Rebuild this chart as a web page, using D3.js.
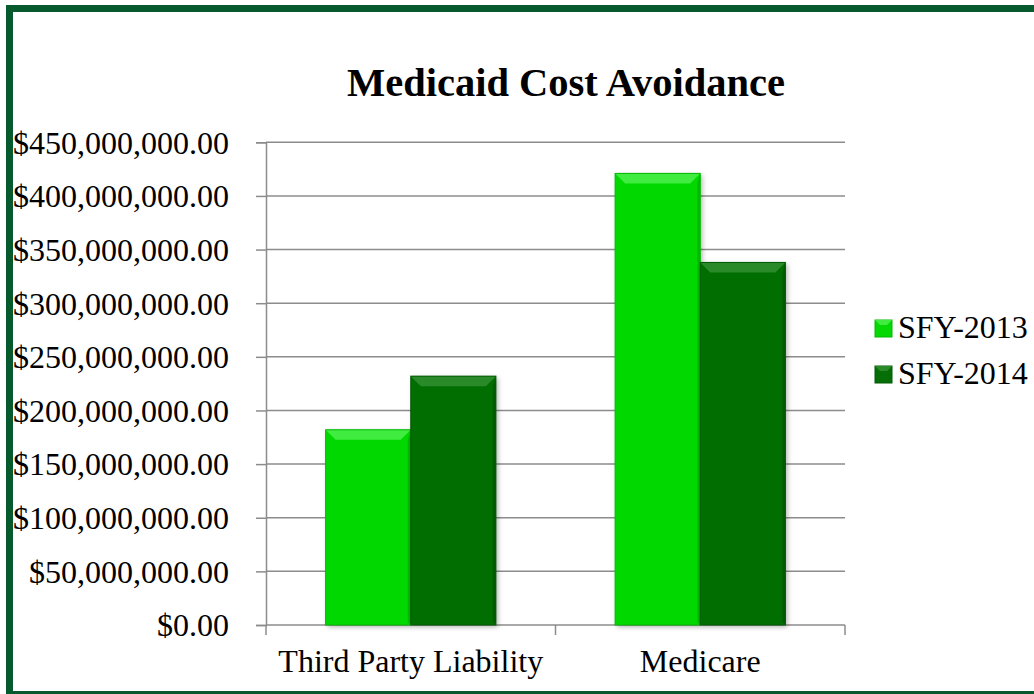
<!DOCTYPE html>
<html>
<head>
<meta charset="utf-8">
<script src="https://cdnjs.cloudflare.com/ajax/libs/d3/7.8.5/d3.min.js"></script>
<style>
  body { margin: 0; background: #fff; overflow: hidden; }
  svg { display: block; overflow: hidden; font-family: "Liberation Serif", "Times New Roman", serif; }
</style>
</head>
<body>
<div class="canvas"></div>
<script>
// data
const categories = ['Third Party Liability', 'Medicare'];
const seriesNames = ['SFY-2013', 'SFY-2014'];
const sfy2013 = [182000000, 421000000];
const sfy2014 = [232000000, 338000000];
const yTicks = [0, 50e6, 100e6, 150e6, 200e6, 250e6, 300e6, 350e6, 400e6, 450e6];

const colors = ['#06d806', '#066e06'];
const topColors = ['#3fec3f', '#2a8a2a'];
const sideColors = ['#04b804', '#045a04'];

// 1. dimensions
const width = 1034, height = 694;
const plot = {left: 266, right: 845, top: 142.3, bottom: 625};

const svg = d3.select('.canvas')
    .append('svg')
    .attr('width', width)
    .attr('height', height);

// drop shadow for bars
const defs = svg.append('defs');
const shadow = defs.append('filter').attr('id', 'shadow')
    .attr('x', '-20%').attr('y', '-20%').attr('width', '150%').attr('height', '150%');
shadow.append('feDropShadow')
    .attr('dx', 2).attr('dy', 2).attr('stdDeviation', 2.5)
    .attr('flood-color', '#000').attr('flood-opacity', 0.3);

// green frame: top, left and bottom only (right side is off the page)
const frame = svg.append('g').attr('fill', '#065a2d');
frame.append('rect').attr('x', 6).attr('y', 5).attr('width', width - 6).attr('height', 7);
frame.append('rect').attr('x', 6).attr('y', 5).attr('width', 7).attr('height', height - 5);
frame.append('rect').attr('x', 6).attr('y', 691).attr('width', width - 6).attr('height', 3);

// title
svg.append('text')
    .attr('x', 566).attr('y', 96)
    .attr('text-anchor', 'middle')
    .attr('font-size', 40.5)
    .attr('font-weight', 'bold')
    .text('Medicaid Cost Avoidance');

// 2. scales
const xScale = d3.scaleBand().domain(categories).range([plot.left, plot.right]).paddingInner(0).paddingOuter(0);
const xInner = d3.scaleBand().domain(seriesNames).range([0, xScale.bandwidth()]).paddingOuter(0.7).paddingInner(0);
const yScale = d3.scaleLinear().domain([0, 450e6]).range([plot.bottom, plot.top]);

// gridlines
svg.append('g')
    .selectAll('line')
    .data(yTicks.slice(1))
    .join('line')
    .attr('x1', plot.left).attr('x2', plot.right)
    .attr('y1', d => yScale(d)).attr('y2', d => yScale(d))
    .attr('stroke', '#8c8c8c')
    .attr('stroke-width', 1.5);

// y axis
const yAxis = d3.axisLeft(yScale)
    .tickValues(yTicks)
    .tickSize(10)
    .tickPadding(27)
    .tickFormat(d => '$' + d3.format(',.2f')(d));

const yAxisGroup = svg.append('g')
    .attr('transform', `translate(${plot.left},0)`)
    .call(yAxis);
yAxisGroup.attr('font-family', null).attr('font-size', null);
yAxisGroup.select('.domain').attr('stroke', '#8c8c8c').attr('stroke-width', 1.5);
yAxisGroup.selectAll('.tick line').attr('stroke', '#8c8c8c').attr('stroke-width', 1.5);
yAxisGroup.selectAll('text')
    .attr('font-size', 32)
    .attr('fill', '#000')
    .attr('dy', '0.34em');

// x axis
const xAxisGroup = svg.append('g')
    .attr('transform', `translate(0,${plot.bottom})`);
xAxisGroup.append('line')
    .attr('x1', plot.left).attr('x2', plot.right)
    .attr('stroke', '#8c8c8c').attr('stroke-width', 1.5);
xAxisGroup.selectAll('.cat-tick')
    .data([plot.left, ...categories.map(c => xScale(c) + xScale.bandwidth())])
    .join('line')
    .attr('class', 'cat-tick')
    .attr('x1', d => d).attr('x2', d => d)
    .attr('y1', 0).attr('y2', 10)
    .attr('stroke', '#8c8c8c').attr('stroke-width', 1.5);
xAxisGroup.selectAll('text')
    .data(categories)
    .join('text')
    .attr('x', d => xScale(d) + xScale.bandwidth() / 2)
    .attr('y', 47)
    .attr('text-anchor', 'middle')
    .attr('font-size', 32)
    .text(d => d);

// bars
const barData = [];
categories.forEach((c, i) => {
    [sfy2013, sfy2014].forEach((vals, s) => {
        barData.push({cat: c, series: seriesNames[s], s: s, value: vals[i]});
    });
});

const bev = 10;
const bars = svg.append('g')
    .selectAll('g')
    .data(barData)
    .join('g')
    .attr('transform', d => `translate(${xScale(d.cat) + xInner(d.series)},${yScale(d.value)})`);

bars.append('rect')
    .attr('width', xInner.bandwidth())
    .attr('height', d => plot.bottom - yScale(d.value))
    .attr('fill', d => colors[d.s])
    .attr('filter', 'url(#shadow)');

// bevel: top facet
bars.append('path')
    .attr('d', d => {
        const w = xInner.bandwidth();
        return `M0,0 L${w},0 L${w - bev},${bev} L${bev},${bev} Z`;
    })
    .attr('fill', d => topColors[d.s]);
// right facet
bars.append('path')
    .attr('d', d => {
        const w = xInner.bandwidth();
        const h = plot.bottom - yScale(d.value);
        return `M${w},0 L${w - 3},${bev} L${w - 3},${h - 3} L${w},${h} Z`;
    })
    .attr('fill', d => sideColors[d.s]);
// outline
bars.append('rect')
    .attr('width', xInner.bandwidth())
    .attr('height', d => plot.bottom - yScale(d.value))
    .attr('fill', 'none')
    .attr('stroke', d => sideColors[d.s])
    .attr('stroke-width', 1);

// legend
const legend = svg.append('g')
    .selectAll('g')
    .data(seriesNames)
    .join('g')
    .attr('transform', (d, i) => `translate(875,${320 + i * 46})`);

legend.append('rect')
    .attr('width', 17).attr('height', 17)
    .attr('fill', (d, i) => colors[i])
    .attr('stroke', (d, i) => sideColors[i]);
legend.append('path')
    .attr('d', 'M0,0 L17,0 L12,5 L5,5 Z')
    .attr('fill', (d, i) => topColors[i]);
legend.append('text')
    .attr('x', 23).attr('y', 18)
    .attr('font-size', 32)
    .text(d => d);
</script>
</body>
</html>
